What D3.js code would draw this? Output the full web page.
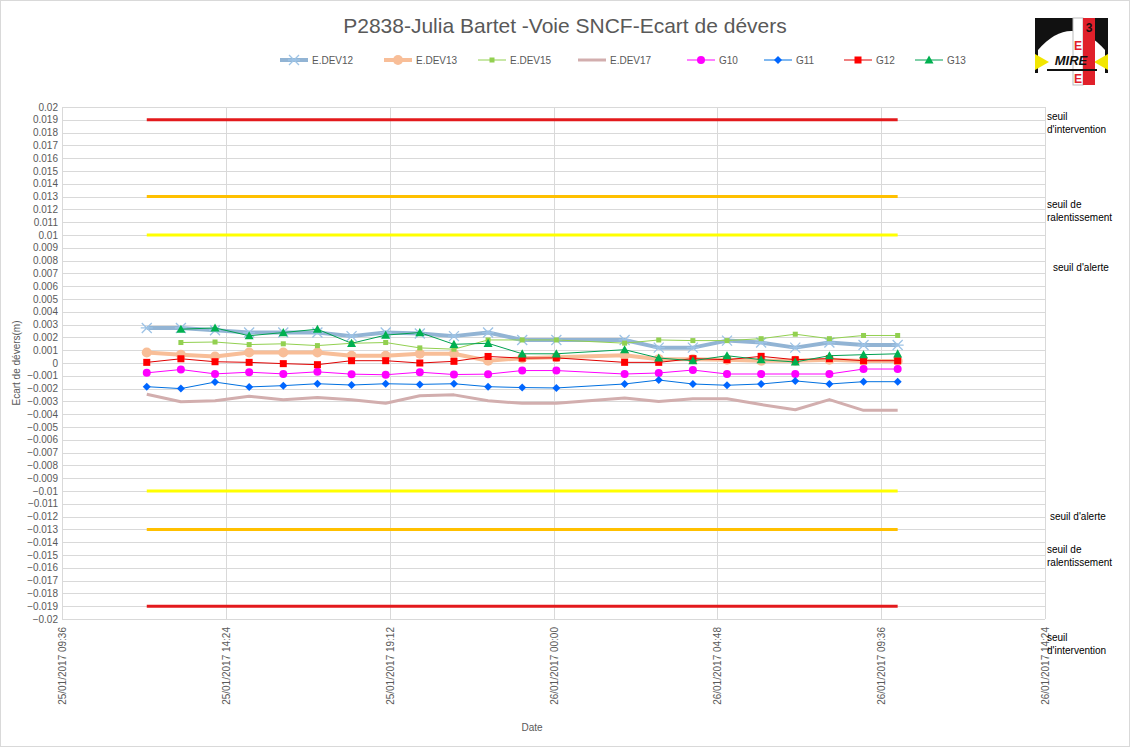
<!DOCTYPE html>
<html><head><meta charset="utf-8">
<script src="https://cdn.jsdelivr.net/npm/d3@7"></script>
<style>body{margin:0;background:#fff;font-family:"Liberation Sans",Arial,sans-serif}</style>
</head><body><svg id="c" width="1130" height="747"></svg>
<script>
const times = ["2017-01-25T12:05","2017-01-25T13:05","2017-01-25T14:05","2017-01-25T15:05","2017-01-25T16:05","2017-01-25T17:05","2017-01-25T18:05","2017-01-25T19:05","2017-01-25T20:05","2017-01-25T21:05","2017-01-25T22:05","2017-01-25T23:05","2017-01-26T00:05","2017-01-26T02:05","2017-01-26T03:05","2017-01-26T04:05","2017-01-26T05:05","2017-01-26T06:05","2017-01-26T07:05","2017-01-26T08:05","2017-01-26T09:05","2017-01-26T10:05"];
const eDev12 = [2.74,2.74,2.56,2.38,2.38,2.38,2.1,2.38,2.3,2.1,2.38,1.8,1.8,1.8,1.2,1.2,1.75,1.6,1.2,1.6,1.4,1.4];
const eDev13 = [0.82,0.64,0.51,0.82,0.82,0.82,0.56,0.56,0.72,0.72,0.18,0.38,0.45,0.6,0.3,0.3,0.25,0.18,0.18,0.25,0.15,0.15];
const eDev15 = [null,1.6,1.64,1.44,1.5,1.36,1.54,1.6,1.18,1.08,1.8,1.8,1.8,1.55,1.8,1.75,1.75,1.9,2.25,1.9,2.15,2.15];
const eDev17 = [-2.44,-3.03,-2.95,-2.6,-2.87,-2.7,-2.87,-3.15,-2.56,-2.49,-2.95,-3.15,-3.15,-2.73,-3.0,-2.8,-2.8,-3.25,-3.65,-2.86,-3.7,-3.7];
const g10 = [-0.77,-0.51,-0.85,-0.72,-0.85,-0.69,-0.87,-0.92,-0.72,-0.9,-0.87,-0.59,-0.59,-0.86,-0.78,-0.55,-0.86,-0.86,-0.86,-0.86,-0.47,-0.47];
const g11 = [-1.85,-2.0,-1.49,-1.87,-1.77,-1.62,-1.72,-1.62,-1.67,-1.62,-1.85,-1.92,-1.95,-1.64,-1.33,-1.64,-1.74,-1.64,-1.4,-1.64,-1.46,-1.46];
const g12 = [0.05,0.33,0.1,0.05,-0.05,-0.13,0.18,0.18,0,0.13,0.51,0.38,0.4,0.05,0.05,0.34,0.26,0.52,0.26,0.34,0.18,0.18];
const g13 = [null,2.64,2.74,2.13,2.38,2.64,1.54,2.18,2.38,1.46,1.54,0.72,0.72,1.04,0.39,0.18,0.57,0.26,0.08,0.57,0.65,0.72];
const thresholds = [0.019,0.013,0.01,-0.01,-0.013,-0.019];
const thresholdNames = [["seuil","d'intervention"],["seuil de","ralentissement"],["seuil d'alerte"],["seuil d'alerte"],["seuil de","ralentissement"],["seuil","d'intervention"]];
const xTicks = ["2017-01-25T09:36","2017-01-25T14:24","2017-01-25T19:12","2017-01-26T00:00","2017-01-26T04:48","2017-01-26T09:36","2017-01-26T14:24"];

const svg = d3.select("#c");
const W=1130,H=747, L=62,R=1045,T=107,B=619;
const parse = d3.timeParse("%Y-%m-%dT%H:%M");
const x = d3.scaleTime().domain([parse(xTicks[0]),parse(xTicks[6])]).range([L,R]);
const y = d3.scaleLinear().domain([-0.02,0.02]).range([B,T]);
svg.append("rect").attr("x",0.5).attr("y",0.5).attr("width",W-1).attr("height",H-1).attr("fill","#fff").attr("stroke","#d9d9d9");

const yt = d3.range(-20,21).map(v=>v/1000);
svg.append("g").selectAll("line").data(yt).join("line").attr("x1",L).attr("x2",R).attr("y1",d=>Math.round(y(d))+0.5).attr("y2",d=>Math.round(y(d))+0.5).attr("stroke","#d9d9d9");
svg.append("g").selectAll("line").data(xTicks).join("line").attr("x1",d=>Math.round(x(parse(d)))+0.5).attr("x2",d=>Math.round(x(parse(d)))+0.5).attr("y1",T).attr("y2",B).attr("stroke","#d9d9d9");
svg.append("g").selectAll("text").data(yt).join("text").attr("x",L-4).attr("y",d=>y(d)+3.5).attr("text-anchor","end").attr("font-size",10).attr("fill","#595959").text(d=>d===0?"0":d3.format("")(+d.toFixed(3)));
const fmt = d3.timeFormat("%d/%m/%Y %H:%M");
svg.append("g").selectAll("text").data(xTicks).join("text").attr("transform",d=>`translate(${x(parse(d))+4},${B+8}) rotate(-90)`).attr("text-anchor","end").attr("font-size",10).attr("fill","#595959").text(d=>fmt(parse(d)));
svg.append("text").attr("x",532).attr("y",731).attr("text-anchor","middle").attr("font-size",10).attr("fill","#595959").text("Date");
svg.append("text").attr("transform","translate(20,363) rotate(-90)").attr("text-anchor","middle").attr("font-size",10).attr("fill","#595959").text("Ecart de dévers(m)");
svg.append("text").attr("x",565).attr("y",33).attr("text-anchor","middle").attr("font-size",21).attr("fill","#595959").text("P2838-Julia Bartet -Voie SNCF-Ecart de dévers");

// thresholds
const tCol = ["#e31a1c","#ffc000","#ffff00","#ffff00","#ffc000","#e31a1c"];
const t0=parse(times[0]), t1=parse(times[times.length-1]);
thresholds.forEach((v,i)=>{
  svg.append("line").attr("x1",x(t0)).attr("x2",x(t1)).attr("y1",y(v)).attr("y2",y(v)).attr("stroke",tCol[i]).attr("stroke-width",3);
});
const labY=[[120,133],[208,221],[271],[520],[553,566],[641,654]];
const labX=[1047,1047,1053,1050,1047,1047];
thresholdNames.forEach((n,i)=>n.forEach((s,j)=>svg.append("text").attr("x",labX[i]).attr("y",labY[i][j]).attr("font-size",10).attr("fill","#000").text(s)));

// series
const series = [
 {name:"E.DEV12",data:eDev12,color:"#92b4d4",w:4,m:"star",ms:5,mc:"#9dc3e6"},
 {name:"E.DEV13",data:eDev13,color:"#f8be98",w:4,m:"circle",ms:5,mc:"#f8be98"},
 {name:"E.DEV15",data:eDev15,color:"#92d050",w:1,m:"square",ms:2.5,mc:"#92d050"},
 {name:"E.DEV17",data:eDev17,color:"#d2aeae",w:3,m:null},
 {name:"G10",data:g10,color:"#ff00ff",w:1,m:"circle",ms:4,mc:"#ff00ff"},
 {name:"G11",data:g11,color:"#0070e0",w:1,m:"diamond",ms:4,mc:"#0066ff"},
 {name:"G12",data:g12,color:"#e00000",w:1,m:"square",ms:3.5,mc:"#ff0000"},
 {name:"G13",data:g13,color:"#00a050",w:1,m:"triangle",ms:4.5,mc:"#00b050"},
];
function marker(g,type,cx,cy,s,c){
  if(type==="circle") g.append("circle").attr("cx",cx).attr("cy",cy).attr("r",s).attr("fill",c);
  else if(type==="square") g.append("rect").attr("x",cx-s).attr("y",cy-s).attr("width",2*s).attr("height",2*s).attr("fill",c);
  else if(type==="diamond") g.append("path").attr("d",`M${cx},${cy-s}L${cx+s},${cy}L${cx},${cy+s}L${cx-s},${cy}Z`).attr("fill",c);
  else if(type==="triangle") g.append("path").attr("d",`M${cx},${cy-s}L${cx+s},${cy+s*0.8}L${cx-s},${cy+s*0.8}Z`).attr("fill",c);
  else if(type==="star") g.append("path").attr("d",`M${cx-s},${cy-s}L${cx+s},${cy+s}M${cx-s},${cy+s}L${cx+s},${cy-s}M${cx-s-1},${cy}L${cx+s+1},${cy}`).attr("stroke",c).attr("stroke-width",1.3);
}
const line = d3.line().defined(d=>d.v!=null).x(d=>x(d.t)).y(d=>y(d.v/1000));
series.forEach(s=>{
  const pts = times.map((t,i)=>({t:parse(t),v:s.data[i]}));
  const g = svg.append("g");
  g.append("path").datum(pts).attr("d",line).attr("fill","none").attr("stroke",s.color).attr("stroke-width",s.w).attr("stroke-linejoin","round");
  if(s.m) pts.filter(p=>p.v!=null).forEach(p=>marker(g,s.m,x(p.t),y(p.v/1000),s.ms,s.mc));
});

// legend
const lx=[280,384,478,578,687,764,844,915];
series.forEach((s,i)=>{
  const g=svg.append("g");
  g.append("line").attr("x1",lx[i]).attr("x2",lx[i]+28).attr("y1",60).attr("y2",60).attr("stroke",s.color).attr("stroke-width",s.w);
  if(s.m) marker(g,s.m,lx[i]+14,60,s.ms,s.mc);
  g.append("text").attr("x",lx[i]+32).attr("y",63.5).attr("font-size",10).attr("fill","#595959").text(s.name);
});

// logo
const lg=svg.append("g").attr("transform","translate(1035,18)");
lg.append("rect").attr("width",73).attr("height",67).attr("fill","#111");
lg.append("path").attr("d","M3,67V32Q36,-6 70,32V67Z").attr("fill","#fff");
lg.append("path").attr("d","M0,36L14,44L0,52Z").attr("fill","#f2e600");
lg.append("path").attr("d","M73,36L59,44L73,52Z").attr("fill","#f2e600");
lg.append("rect").attr("x",0).attr("y",55).attr("width",73).attr("height",12).attr("fill","#fff");
lg.append("rect").attr("x",38).attr("y",0).attr("width",10).attr("height",67).attr("fill","#fff").attr("stroke","#bbb");
lg.append("rect").attr("x",48).attr("y",0).attr("width",12).attr("height",67).attr("fill","#e0202a");
lg.append("text").attr("x",54).attr("y",14).attr("text-anchor","middle").attr("font-size",12).attr("font-weight","bold").attr("fill","#111").text("3");
lg.append("text").attr("x",43).attr("y",32).attr("text-anchor","middle").attr("font-size",12).attr("font-weight","bold").attr("fill","#e0202a").text("E");
lg.append("text").attr("x",43).attr("y",65).attr("text-anchor","middle").attr("font-size",12).attr("font-weight","bold").attr("fill","#e0202a").text("E");
lg.append("text").attr("x",36).attr("y",47).attr("text-anchor","middle").attr("font-size",13).attr("font-weight","bold").attr("font-style","italic").attr("fill","#111").text("MIRE");
lg.append("line").attr("x1",12).attr("x2",62).attr("y1",52).attr("y2",52).attr("stroke","#111").attr("stroke-width",2);
</script></body></html>
